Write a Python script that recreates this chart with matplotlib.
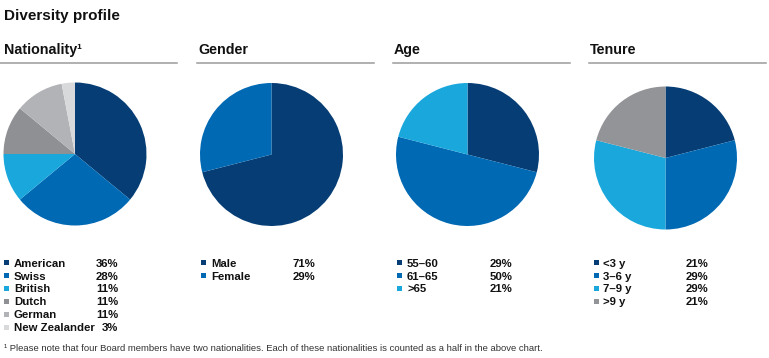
import matplotlib
matplotlib.use("Agg")
import matplotlib.pyplot as plt
from matplotlib.patches import Rectangle

plt.rcParams['font.family'] = ['Liberation Sans', 'DejaVu Sans']

W, H = 769, 358

# data
titulos = ["Nationality\u00b9", "Gender", "Age", "Tenure"]

nac_labels = ["American", "Swiss", "British", "Dutch", "German", "New Zealander"]
nac_vals = [36, 28, 11, 11, 11, 3]
gen_labels = ["Male", "Female"]
gen_vals = [71, 29]
age_labels = ["55\u201360", "61\u201365", ">65"]
age_vals = [29, 50, 21]
ten_labels = ["<3 y", "3\u20136 y", "7\u20139 y", ">9 y"]
ten_vals = [21, 29, 29, 21]

navy = "#063d74"
azul = "#0069b4"
celeste = "#1aa8dc"
gris1 = "#8f9093"
gris2 = "#b1b3b6"
gris3 = "#d8d9db"

nac_col = [navy, azul, celeste, gris1, gris2, gris3]
gen_col = [navy, azul]
age_col = [navy, azul, celeste]
ten_col = [navy, azul, celeste, "#939497"]

nota = ("\u00b9 Please note that four Board members have two nationalities. "
        "Each of these nationalities is counted as a half in the above chart.")

paneles = [
    (nac_labels, nac_vals, nac_col, 75, 154, 0, 4, 14, 118),
    (gen_labels, gen_vals, gen_col, 271.5, 154.5, 197, 201, 211, 315),
    (age_labels, age_vals, age_col, 467.5, 154.5, 393, 397, 407, 512),
    (ten_labels, ten_vals, ten_col, 665.5, 158, 589, 594, 603, 708),
]

fig = plt.figure(figsize=(W / 100, H / 100), dpi=100)
fondo = fig.add_axes([0, 0, 1, 1])
fondo.set_xlim(0, W)
fondo.set_ylim(H, 0)
fondo.axis("off")

fondo.text(4, 20, "Diversity profile", fontsize=11, fontweight="bold",
           color="#111111", va="baseline")

r = 71.5
for i, (labs, vals, cols, cx, cy, x0, xm, xl, xr) in enumerate(paneles):
    # titulo y linea
    fondo.text(x0 + 4 if i == 0 else x0 + 1, 54, titulos[i], fontsize=10.3,
               fontweight="bold", color="#111111", va="baseline")
    fondo.plot([x0, x0 + 177], [63, 63], color="#9b9b9b", lw=1.1)

    # pie
    ax = fig.add_axes([(cx - r) / W, 1 - (cy + r) / H, 2 * r / W, 2 * r / H])
    ax.pie(vals, colors=cols, startangle=90, counterclock=False, radius=1,
           wedgeprops=dict(linewidth=0))
    ax.set_xlim(-1, 1)
    ax.set_ylim(-1, 1)
    ax.set_aspect("auto")
    ax.axis("off")

    # leyenda
    for j, (lab, v) in enumerate(zip(labs, vals)):
        y = 262.7 + j * 12.9
        fondo.add_patch(Rectangle((xm, y - 2.5), 5, 5, color=cols[j], lw=0))
        fondo.text(xl, y + 4, lab, fontsize=8.2, fontweight="bold",
                   color="#111111", va="baseline")
        fondo.text(xr, y + 4, "%d%%" % v, fontsize=8.2, fontweight="bold",
                   color="#111111", va="baseline", ha="right")

fondo.text(4, 351, nota, fontsize=6.8, color="#333333", va="baseline")

fig.savefig("out.png", dpi=100)
